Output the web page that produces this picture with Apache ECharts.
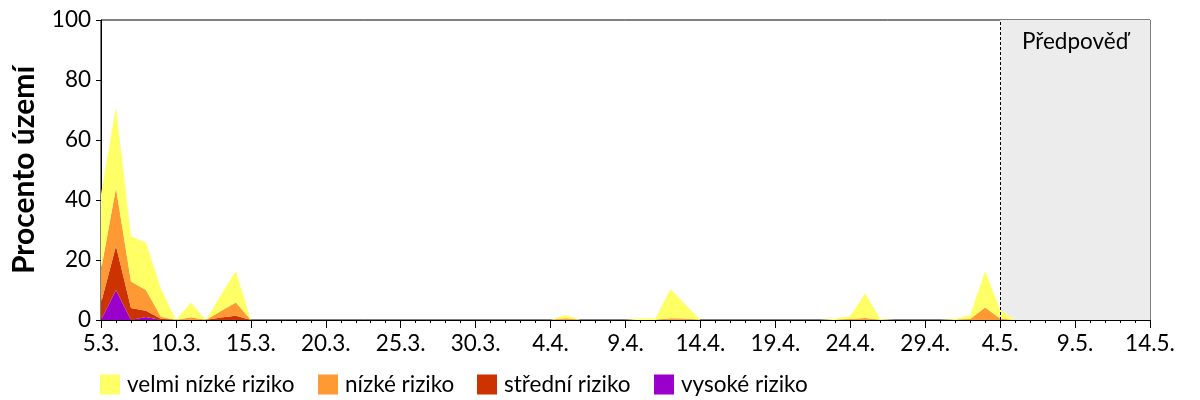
<!DOCTYPE html>
<html>
<head>
<meta charset="utf-8">
<script src="https://cdn.jsdelivr.net/npm/echarts@6/dist/echarts.min.js"></script>
<style>html,body{margin:0;padding:0;background:#fff}#c{width:1200px;height:400px}</style>
</head>
<body>
<div id="c"></div>
<script>
var categories = ["5.3.","6.3.","7.3.","8.3.","9.3.","10.3.","11.3.","12.3.","13.3.","14.3.",
"15.3.","16.3.","17.3.","18.3.","19.3.","20.3.","21.3.","22.3.","23.3.","24.3.",
"25.3.","26.3.","27.3.","28.3.","29.3.","30.3.","31.3.","1.4.","2.4.","3.4.",
"4.4.","5.4.","6.4.","7.4.","8.4.","9.4.","10.4.","11.4.","12.4.","13.4.",
"14.4.","15.4.","16.4.","17.4.","18.4.","19.4.","20.4.","21.4.","22.4.","23.4.",
"24.4.","25.4.","26.4.","27.4.","28.4.","29.4.","30.4.","1.5.","2.5.","3.5.",
"4.5.","5.5.","6.5.","7.5.","8.5.","9.5.","10.5.","11.5.","12.5.","13.5.","14.5."];

var vysoke = [0,10,0,1,0,0,0,0,0,0, 0,0,0,0,0,0,0,0,0,0, 0,0,0,0,0,0,0,0,0,0,
  0,0,0,0,0,0,0,0,0,0, 0,0,0,0,0,0,0,0,0,0, 0,0,0,0,0,0,0,0,0,0, 0,0,0,0,0,0,0,0,0,0,0];
var stredni = [5.7,14.7,4,2.1,0.4,0,0,0,0.8,1.4, 0,0,0,0,0,0,0,0,0,0, 0,0,0,0,0,0,0,0,0,0,
  0,0,0,0,0,0,0,0,0,0, 0,0,0,0,0,0,0,0,0,0, 0,0,0,0,0,0,0,0,0,0, 0,0,0,0,0,0,0,0,0,0,0];
var nizke = [11,19.3,8.8,6.9,0.7,0,0.9,0,2.2,4.4, 0,0,0,0,0,0,0,0,0,0, 0,0,0,0,0,0,0,0,0,0,
  0,0.6,0,0,0,0,0,0,0.6,0.5, 0,0,0,0,0,0,0,0,0,0, 0.3,0.7,0,0,0,0,0,0,0.3,4.2, 0.5,0,0,0,0,0,0,0,0,0,0];
var velmiNizke = [25.3,27,15,15.8,9.4,0,4.9,0,5.3,10.5, 0,0,0,0,0,0,0,0,0,0, 0,0,0,0,0,0,0,0,0,0,
  0,1.1,0,0,0,0,0.5,0.5,9.7,4.7, 0,0,0,0,0,0,0,0,0,0.4, 1.0,8.2,0.3,0,0,0,0,0.3,1.4,12.1, 2.8,0,0,0,0,0,0,0,0,0,0];

var seriesNames = ["velmi nízké riziko","nízké riziko","střední riziko","vysoké riziko"];
var yTicks = [0,20,40,60,80,100];
var forecastStart = "4.5.";
var forecastEnd = "14.5.";
var forecastLabel = "Předpověď";
var yTitle = "Procento území";

var FONT = "Lato, 'Noto Sans', sans-serif";
var FS = 22.5;
var colors = {"velmi nízké riziko":"#ffff66","nízké riziko":"#ff9933","střední riziko":"#cc3300","vysoké riziko":"#9900cc"};

function areaSeries(name, data, extra) {
  var s = {
    name: name, type: 'line', stack: 'total', data: data,
    showSymbol: false, symbol: 'none', smooth: false,
    lineStyle: {width: 0, opacity: 0},
    itemStyle: {color: colors[name]},
    areaStyle: {color: colors[name], opacity: 1},
    z: 2, emphasis: {disabled: true}, silent: true
  };
  if (extra) for (var k in extra) s[k] = extra[k];
  return s;
}

var chart = echarts.init(document.getElementById('c'), null, {renderer: 'canvas'});
var legendX = [100, 318, 477, 654];
var legends = seriesNames.map(function (n, i) {
  return {
    data: [n], left: legendX[i], top: 373, orient: 'horizontal', padding: 0,
    icon: 'rect', itemWidth: 20, itemHeight: 20, itemGap: 0,
    textStyle: {fontFamily: FONT, fontSize: FS, color: '#000', padding: [0,0,0,2]},
    selectedMode: false
  };
});

chart.setOption({
  animation: false,
  textStyle: {fontFamily: FONT},
  grid: {left: 101, right: 50, top: 20, bottom: 80, show: true, borderColor: '#000', borderWidth: 1, backgroundColor: 'transparent'},
  legend: legends,
  xAxis: [{
    type: 'category', data: categories, boundaryGap: false,
    axisLine: {lineStyle: {color: '#000', width: 1}},
    axisTick: {show: true, interval: 4, length: 8, lineStyle: {color: '#000'}},
    axisLabel: {interval: 4, color: '#000', fontSize: FS, fontFamily: FONT, margin: 12},
    splitLine: {show: false}
  }, {
    type: 'category', data: categories, boundaryGap: false, position: 'bottom',
    axisLine: {show: false},
    axisTick: {show: true, interval: 0, length: 3, lineStyle: {color: '#000'}},
    axisLabel: {show: false}, splitLine: {show: false}
  }],
  yAxis: {
    type: 'value', min: yTicks[0], max: yTicks[yTicks.length - 1], interval: 20,
    name: yTitle, nameLocation: 'middle', nameGap: 62, nameRotate: 90,
    nameTextStyle: {fontFamily: FONT, fontSize: 30, fontWeight: 'bold', color: '#000'},
    axisLine: {show: true, lineStyle: {color: '#000'}},
    axisTick: {show: true, length: 5, lineStyle: {color: '#000'}},
    axisLabel: {color: '#000', fontSize: FS, fontFamily: FONT, margin: 10},
    splitLine: {show: false}
  },
  series: [
    areaSeries(seriesNames[3], vysoke, {
      markArea: {
        silent: true, z: 1,
        itemStyle: {color: '#ececec'},
        label: {show: true, position: 'insideTop', distance: 10, color: '#000', fontSize: FS, fontFamily: FONT},
        data: [[{name: forecastLabel, xAxis: forecastStart}, {xAxis: forecastEnd}]]
      },
      markLine: {
        silent: true, symbol: 'none', z: 5,
        label: {show: false},
        lineStyle: {color: '#000', type: [3, 2], width: 1},
        data: [{xAxis: forecastStart}]
      }
    }),
    areaSeries(seriesNames[2], stredni),
    areaSeries(seriesNames[1], nizke),
    areaSeries(seriesNames[0], velmiNizke)
  ]
});
</script>
</body>
</html>
